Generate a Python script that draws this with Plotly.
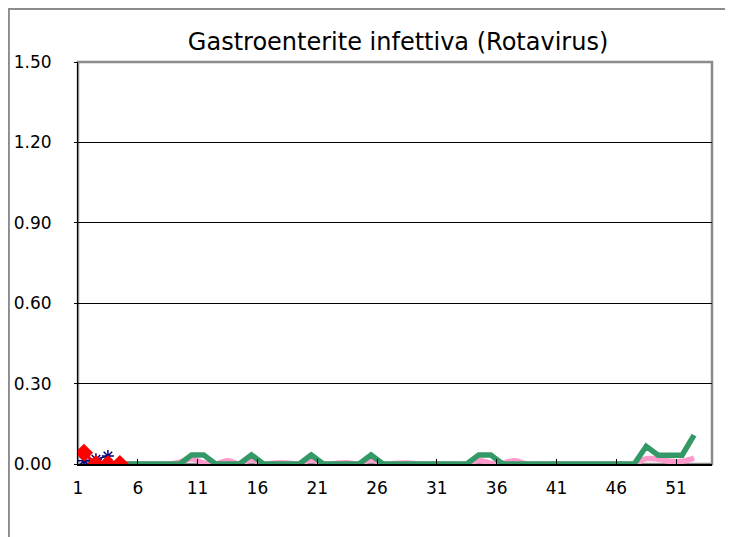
import plotly.graph_objs as go

# weekly values, week 1..52 (category 53 left empty on the axis)
weeks = list(range(1, 53))

green_vals = [0, 0, 0, 0, 0, 0, 0, 0, 0, 0.034,
              0.034, 0, 0, 0, 0.034, 0, 0, 0, 0, 0.034,
              0, 0, 0, 0, 0.034, 0, 0, 0, 0, 0,
              0, 0, 0, 0.034, 0.034, 0, 0, 0, 0, 0,
              0, 0, 0, 0, 0, 0, 0, 0.066, 0.033, 0.033,
              0.033, 0.108]

pink_vals = [0, 0, 0, 0, 0, 0, 0, 0, 0.007, 0.02,
             0.004, 0, 0.012, 0, 0.016, 0, 0.004, 0.004, 0, 0.016,
             0, 0.002, 0.005, 0, 0.016, 0, 0.002, 0.004, 0, 0,
             0, 0, 0, 0.013, 0.003, 0.004, 0.012, 0, 0, 0,
             0, 0, 0, 0, 0, 0, 0, 0.02, 0.018, 0.01,
             0.01, 0.022]

blue_weeks = [1, 2, 3]
blue_vals = [0.012, 0.018, 0.03]

red_weeks = [1, 2, 3, 4]
red_vals = [0.042, 0, 0, 0]

tick_labels = ['1', '6', '11', '16', '21', '26', '31', '36', '41', '46', '51']
tick_pos = [int(t) - 0.5 for t in tick_labels]

fig = go.Figure()
fig.add_trace(go.Scatter(x=weeks, y=pink_vals, mode='lines',
                         line=dict(color='#FF99CC', width=5.5, shape='spline'), name='pink'))
fig.add_trace(go.Scatter(x=weeks, y=green_vals, mode='lines',
                         line=dict(color='#339966', width=5.5), name='green'))
fig.add_trace(go.Scatter(x=blue_weeks, y=blue_vals, mode='lines+markers',
                         line=dict(color='#000080', width=1.5),
                         marker=dict(symbol='asterisk-open', size=10,
                                     line=dict(color='#000080', width=1.5)), name='blue'))
fig.add_trace(go.Scatter(x=red_weeks, y=red_vals, mode='lines+markers',
                         line=dict(color='#FF0000', width=3),
                         marker=dict(symbol='diamond', size=14, color='#FF0000'), name='red'))

# outer chart frame (cut off at right and bottom) and plot area frame
fig.add_shape(type='rect', xref='paper', yref='paper',
              x0=-0.109, x1=1.05, y0=-0.25, y1=1.132,
              line=dict(color='#8c8c8c', width=2), layer='below')
fig.add_shape(type='rect', xref='paper', yref='paper',
              x0=0, x1=1, y0=0, y1=1,
              line=dict(color='#8c8c8c', width=2.5), layer='below')

fig.update_layout(
    width=725, height=529, autosize=False,
    margin=dict(l=70, r=21, t=54, b=73),
    paper_bgcolor='white',
    plot_bgcolor='white',
    showlegend=False,
    font=dict(family='DejaVu Sans', color='black'),
    title=dict(text='Gastroenterite infettiva (Rotavirus)',
               x=0.538, xanchor='center', y=0.936, yanchor='middle',
               font=dict(family='DejaVu Sans', size=24, color='black')),
    xaxis=dict(range=[0.5, 53.5], tickvals=tick_pos, ticktext=tick_labels,
               showgrid=False, zeroline=False, automargin=False,
               showline=True, linecolor='black', linewidth=1.5,
               ticks='inside', ticklen=5, tickcolor='black',
               ticklabelstandoff=8, tickfont=dict(size=17)),
    yaxis=dict(range=[0, 1.5], tick0=0, dtick=0.3, tickformat='.2f',
               showgrid=True, gridcolor='black', gridwidth=1,
               zeroline=False, showline=True, linecolor='black', linewidth=1,
               ticks='outside', ticklen=3, tickcolor='black', automargin=False,
               ticklabelstandoff=19, tickfont=dict(size=17)),
)

fig.write_html("out.html")
